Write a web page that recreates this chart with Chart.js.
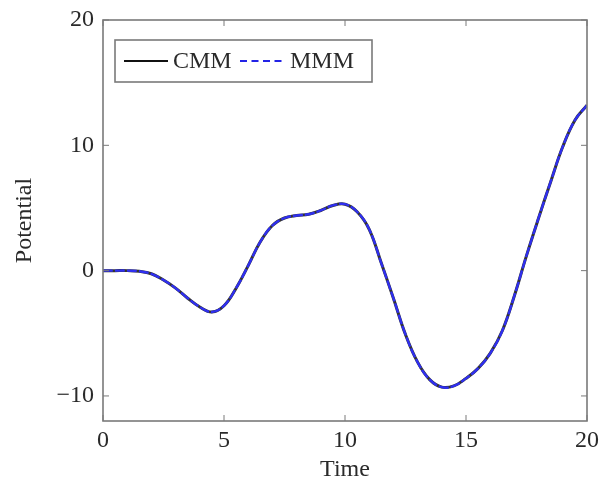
<!DOCTYPE html>
<html>
<head>
<meta charset="utf-8">
<script src="https://cdn.jsdelivr.net/npm/chart.js@4.4.1/dist/chart.umd.min.js"></script>
<style>
  html, body { margin: 0; padding: 0; background: #fff; }
  #wrap { width: 600px; height: 488px; }
</style>
</head>
<body>
<div id="wrap"><canvas id="potentialChart" width="600" height="488"></canvas></div>
<script>
// values
const timeValues = [0, 0.5, 1, 1.5, 2, 2.5, 3, 3.5, 4, 4.5, 5, 5.5, 6, 6.5, 7, 7.5, 8, 8.5, 9, 9.5, 10,
    10.5, 11, 11.5, 12, 12.5, 13, 13.5, 14, 14.5, 15, 15.5, 16, 16.5, 17, 17.5, 18, 18.5, 19, 19.5, 20];
const cmmValues = [0, 0, 0, -0.05, -0.25, -0.75, -1.4, -2.2, -2.9, -3.3, -2.8, -1.4, 0.4, 2.3, 3.6, 4.2, 4.4, 4.5, 4.8, 5.2, 5.3,
    4.7, 3.3, 0.6, -2.2, -5.1, -7.3, -8.7, -9.3, -9.2, -8.6, -7.8, -6.6, -4.8, -2.0, 1.2, 4.2, 7.1, 9.9, 12.0, 13.2];
const mmmValues = cmmValues.slice();
const xTicks = [0, 5, 10, 15, 20];
const yTicks = [-10, 0, 10, 20];
const seriesNames = ["CMM", "MMM"];

const serif = "'Liberation Serif', 'DejaVu Serif', serif";
const frameColor = "#7a7a7a";
const textColor = "#2a2a2a";
const fontSize = 24;

function toPoints(ys) {
    return timeValues.map((t, i) => ({ x: t, y: ys[i] }));
}

function fmt(v) {
    return v < 0 ? "\u2212" + Math.abs(v) : String(v);
}

// frame, inward ticks and legend box, pgfplots style
const framePlugin = {
    id: "frame",
    afterDraw(chart) {
        const ctx = chart.ctx;
        const a = chart.chartArea;
        const xs = chart.scales.x, ys = chart.scales.y;
        ctx.save();
        ctx.strokeStyle = frameColor;
        ctx.lineWidth = 1.6;
        ctx.strokeRect(a.left, a.top, a.right - a.left, a.bottom - a.top);
        ctx.lineWidth = 1;
        xTicks.forEach(v => {
            const px = xs.getPixelForValue(v);
            ctx.beginPath();
            ctx.moveTo(px, a.bottom); ctx.lineTo(px, a.bottom - 6);
            ctx.moveTo(px, a.top); ctx.lineTo(px, a.top + 6);
            ctx.stroke();
        });
        yTicks.forEach(v => {
            const py = ys.getPixelForValue(v);
            ctx.beginPath();
            ctx.moveTo(a.left, py); ctx.lineTo(a.left + 6, py);
            ctx.moveTo(a.right, py); ctx.lineTo(a.right - 6, py);
            ctx.stroke();
        });

        // legend
        const lx = a.left + 12, ly = a.top + 20, lw = 257, lh = 42;
        ctx.fillStyle = "#fff";
        ctx.fillRect(lx, ly, lw, lh);
        ctx.strokeStyle = frameColor;
        ctx.lineWidth = 1.6;
        ctx.strokeRect(lx, ly, lw, lh);
        const midY = ly + lh / 2;
        ctx.font = fontSize + "px " + serif;
        ctx.textBaseline = "middle";
        ctx.fillStyle = textColor;

        ctx.strokeStyle = "#111";
        ctx.lineWidth = 2;
        ctx.setLineDash([]);
        ctx.beginPath(); ctx.moveTo(lx + 9, midY); ctx.lineTo(lx + 53, midY); ctx.stroke();
        ctx.fillText(seriesNames[0], lx + 58, midY + 1);

        ctx.strokeStyle = "#2323e6";
        ctx.setLineDash([7, 4.5]);
        ctx.beginPath(); ctx.moveTo(lx + 125, midY); ctx.lineTo(lx + 170, midY); ctx.stroke();
        ctx.setLineDash([]);
        ctx.fillText(seriesNames[1], lx + 175, midY + 1);
        ctx.restore();
    }
};

new Chart(document.getElementById("potentialChart"), {
    type: "line",
    data: {
        datasets: [
            {
                label: seriesNames[1],
                data: toPoints(mmmValues),
                borderColor: "#2f2fef",
                borderWidth: 2.4,
                borderDash: [10, 2],
                pointRadius: 0,
                tension: 0.4,
                order: 0
            },
            {
                label: seriesNames[0],
                data: toPoints(cmmValues),
                borderColor: "#333",
                borderWidth: 3,
                pointRadius: 0,
                tension: 0.4,
                order: 1
            }
        ]
    },
    options: {
        responsive: false,
        animation: false,
        layout: { padding: 0 },
        plugins: { legend: { display: false }, tooltip: { enabled: false } },
        scales: {
            x: {
                type: "linear",
                min: 0,
                max: 20,
                afterBuildTicks: s => { s.ticks = xTicks.map(v => ({ value: v })); },
                afterFit: s => { s.height = 67; s.paddingLeft = 0; s.paddingRight = 13; },
                grid: { display: false, drawTicks: false },
                border: { display: false },
                ticks: { color: textColor, font: { family: serif, size: fontSize }, padding: 5, maxRotation: 0, callback: v => fmt(v) },
                title: { display: true, text: "Time", color: textColor, font: { family: serif, size: fontSize }, padding: { top: 0 } }
            },
            y: {
                type: "linear",
                min: -12,
                max: 20,
                afterBuildTicks: s => { s.ticks = yTicks.map(v => ({ value: v })); },
                afterFit: s => { s.width = 103; s.paddingTop = 20; s.paddingBottom = 0; },
                grid: { display: false, drawTicks: false },
                border: { display: false },
                ticks: { color: textColor, font: { family: serif, size: fontSize }, padding: 9, callback: v => fmt(v) },
                title: { display: true, text: "Potential", color: textColor, font: { family: serif, size: fontSize }, padding: { top: 10, bottom: 0 } }
            }
        }
    },
    plugins: [framePlugin]
});
</script>
</body>
</html>
